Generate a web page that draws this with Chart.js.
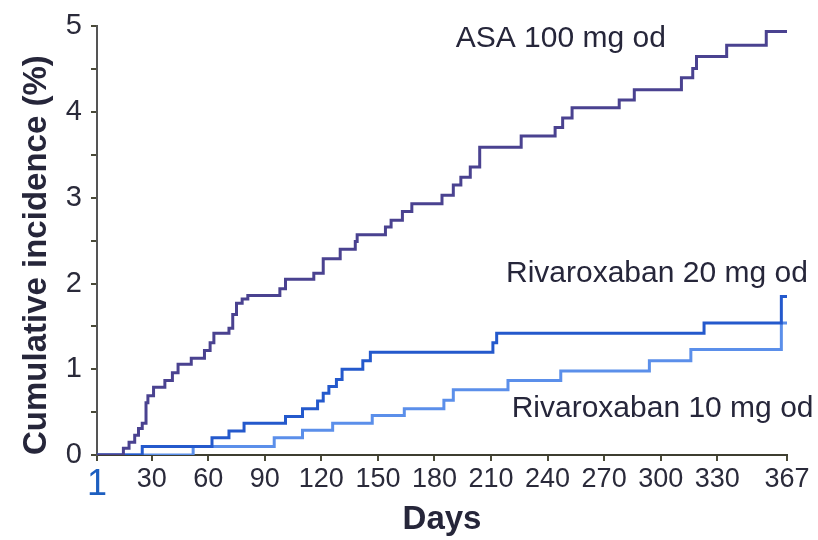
<!DOCTYPE html>
<html>
<head>
<meta charset="utf-8">
<script src="https://cdn.jsdelivr.net/npm/chart.js@4.4.1/dist/chart.umd.min.js"></script>
<style>
html,body{margin:0;padding:0;background:#fff;}
#wrap{width:818px;height:540px;position:relative;}
canvas{display:block;}
</style>
</head>
<body>
<div id="wrap"><canvas id="c" width="818" height="540"></canvas></div>
<script>
// ---- data ----
const xTickValues = [1, 30, 60, 90, 120, 150, 180, 210, 240, 270, 300, 330, 367];
const yTickValues = [0, 1, 2, 3, 4, 5];

const asaDays   = [1, 15, 18, 21, 23, 25, 27, 28, 31, 37, 41, 44, 51, 58, 61, 63, 71, 73, 75, 78, 81, 98, 101, 116, 121, 130, 138, 139, 154, 157, 163, 168, 184, 190, 194, 199, 204, 226, 244, 248, 253, 278, 286, 311, 317, 319, 335, 356, 367];
const asaValues = [0, 0.08, 0.15, 0.23, 0.31, 0.37, 0.61, 0.69, 0.79, 0.87, 0.96, 1.06, 1.13, 1.22, 1.31, 1.42, 1.48, 1.64, 1.77, 1.82, 1.86, 1.94, 2.05, 2.12, 2.29, 2.40, 2.49, 2.57, 2.66, 2.74, 2.84, 2.93, 3.03, 3.15, 3.24, 3.36, 3.59, 3.72, 3.82, 3.93, 4.05, 4.14, 4.26, 4.40, 4.51, 4.65, 4.78, 4.94, 4.94];

const riva20Days   = [1, 25, 62, 71, 79, 101, 110, 118, 121, 124, 128, 131, 142, 146, 211, 213, 323, 364, 367];
const riva20Values = [0, 0.10, 0.20, 0.28, 0.37, 0.45, 0.54, 0.63, 0.72, 0.80, 0.88, 1.00, 1.10, 1.20, 1.31, 1.42, 1.54, 1.85, 1.85];

const riva10Days   = [1, 52, 95, 110, 126, 147, 164, 185, 190, 219, 247, 294, 316, 364, 367];
const riva10Values = [0, 0.10, 0.20, 0.29, 0.37, 0.46, 0.54, 0.64, 0.76, 0.87, 0.98, 1.10, 1.23, 1.54, 1.54];

const seriesLabels = ['ASA 100 mg od', 'Rivaroxaban 20 mg od', 'Rivaroxaban 10 mg od'];
// label anchor positions in data space (day, %)
const labelDays   = [247, 298, 301];
const labelValues = [4.86, 2.12, 0.54];

const xTitle = 'Days';
const yTitle = 'Cumulative incidence (%)';

// ---- helpers ----
const pts = (d, v) => d.map((x, i) => ({x: x, y: v[i]}));

const textPlugin = {
  id: 'seriesText',
  afterDatasetsDraw(chart) {
    const {ctx, scales} = chart;
    ctx.save();
    ctx.font = '30px "Liberation Sans", Arial, sans-serif';
    ctx.fillStyle = '#26263a';
    ctx.textAlign = 'center';
    ctx.textBaseline = 'middle';
    seriesLabels.forEach((t, i) => {
      ctx.fillText(t, scales.x.getPixelForValue(labelDays[i]), scales.y.getPixelForValue(labelValues[i]));
    });
    ctx.restore();
  }
};

new Chart(document.getElementById('c'), {
  type: 'line',
  data: {
    datasets: [
      {label: seriesLabels[0], data: pts(asaDays, asaValues), borderColor: '#4a4290', borderWidth: 3, stepped: true, pointRadius: 0, fill: false, order: 1},
      {label: seriesLabels[1], data: pts(riva20Days, riva20Values), borderColor: '#2459cc', borderWidth: 3, stepped: true, pointRadius: 0, fill: false, order: 2},
      {label: seriesLabels[2], data: pts(riva10Days, riva10Values), borderColor: '#5b8fea', borderWidth: 3, stepped: true, pointRadius: 0, fill: false, order: 3}
    ]
  },
  options: {
    responsive: false,
    animation: false,
    devicePixelRatio: 1,
    layout: {padding: {left: 12, right: 31, top: 23, bottom: 0}},
    plugins: {legend: {display: false}, tooltip: {enabled: false}},
    scales: {
      x: {
        type: 'linear',
        min: 1, max: 367,
        afterBuildTicks: (s) => { s.ticks = xTickValues.map(v => ({value: v})); },
        afterFit: (s) => { s.height = 85; },
        border: {display: true, color: '#3e3e30', width: 2},
        grid: {drawOnChartArea: false, drawTicks: true, tickLength: 6, color: '#4a4a38', lineWidth: 2},
        ticks: {
          autoSkip: false, maxRotation: 0, padding: 2,
          color: (c) => (c.tick && c.tick.value === 1) ? '#1d5fc0' : '#2a2a3a',
          font: (c) => (c.tick && c.tick.value === 1) ? {family: '"Liberation Sans Narrow", "Liberation Sans", Arial', size: 36} : {family: '"Liberation Sans Narrow", "Liberation Sans", Arial', size: 27}
        },
        title: {display: true, text: xTitle, color: '#26263a', font: {family: '"Liberation Sans", Arial', size: 33, weight: 'bold'}, padding: {top: 0, bottom: 0}}
      },
      y: {
        min: 0, max: 5,
        afterBuildTicks: (s) => {
          const t = [];
          for (let v = 0; v <= 5; v += 0.5) t.push({value: v});
          s.ticks = t;
        },
        afterFit: (s) => { s.width = 85; },
        border: {display: true, color: '#555555', width: 2},
        grid: {drawOnChartArea: false, drawTicks: true, tickLength: 6, color: '#4a4a38', lineWidth: 2},
        ticks: {
          padding: 9, color: '#2a2a3a',
          font: {family: '"Liberation Sans", Arial', size: 29},
          callback: (v) => yTickValues.includes(v) ? String(v) : ''
        },
        title: {display: true, text: yTitle, align: 'start', color: '#26263a', font: {family: '"Liberation Sans", Arial', size: 33, weight: 'bold'}, padding: {top: 5, bottom: 4}}
      }
    }
  },
  plugins: [textPlugin]
});
</script>
</body>
</html>
